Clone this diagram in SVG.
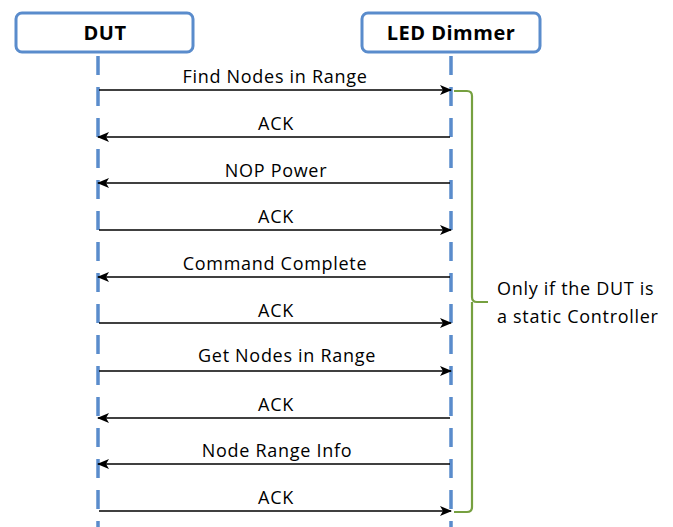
<svg xmlns="http://www.w3.org/2000/svg" width="673" height="527" viewBox="0 0 673 527">
<defs>
<style>
.box{fill:#fff;stroke:#5a8ccc;stroke-width:3}
.hdr{font-family:"Open Sans","Liberation Sans",Arial,sans-serif;font-weight:bold;font-size:20px;letter-spacing:0.5px;fill:#000;text-anchor:middle}
.life{stroke:#5a8ccc;stroke-width:3.5;stroke-dasharray:19 12}
.msg{stroke:#000;stroke-width:1.6;fill:none}
.lbl{font-family:"Open Sans","Liberation Sans",Arial,sans-serif;font-size:18px;letter-spacing:0.7px;fill:#000;text-anchor:middle}
.note{font-family:"Open Sans","Liberation Sans",Arial,sans-serif;font-size:18px;letter-spacing:0.7px;fill:#000}
</style>
<marker id="ah" viewBox="0 0 12 10" refX="11" refY="5" markerWidth="12" markerHeight="10" markerUnits="userSpaceOnUse" orient="auto">
<path d="M0,0 L12,5 L0,10 L3,5 Z" fill="#000"/>
</marker>
</defs>
<g id="DUT">
<rect class="box" x="16" y="13" width="177" height="39" rx="6"/>
<text class="hdr" x="105" y="40">DUT</text>
<line class="life" x1="98" y1="56" x2="98" y2="527"/>
</g>
<g id="LED">
<rect class="box" x="362" y="13" width="178" height="39" rx="6"/>
<text class="hdr" x="451" y="40">LED Dimmer</text>
<line class="life" x1="451" y1="56" x2="451" y2="527"/>
</g>
<g id="connectors">
<line class="msg" x1="99" y1="90" x2="451" y2="90" marker-end="url(#ah)"/>
<line class="msg" x1="450" y1="137" x2="98" y2="137" marker-end="url(#ah)"/>
<line class="msg" x1="450" y1="183" x2="98" y2="183" marker-end="url(#ah)"/>
<line class="msg" x1="99" y1="230" x2="451" y2="230" marker-end="url(#ah)"/>
<line class="msg" x1="450" y1="277" x2="98" y2="277" marker-end="url(#ah)"/>
<line class="msg" x1="99" y1="323" x2="451" y2="323" marker-end="url(#ah)"/>
<line class="msg" x1="99" y1="371" x2="451" y2="371" marker-end="url(#ah)"/>
<line class="msg" x1="450" y1="418" x2="98" y2="418" marker-end="url(#ah)"/>
<line class="msg" x1="450" y1="464" x2="98" y2="464" marker-end="url(#ah)"/>
<line class="msg" x1="99" y1="511" x2="451" y2="511" marker-end="url(#ah)"/>
</g>
<g id="labels">
<text class="lbl" x="275" y="83">Find Nodes in Range</text>
<text class="lbl" x="276" y="130">ACK</text>
<text class="lbl" x="276" y="177">NOP Power</text>
<text class="lbl" x="276" y="223">ACK</text>
<text class="lbl" x="275" y="270">Command Complete</text>
<text class="lbl" x="276" y="317">ACK</text>
<text class="lbl" x="287" y="362">Get Nodes in Range</text>
<text class="lbl" x="276" y="411">ACK</text>
<text class="lbl" x="277" y="457">Node Range Info</text>
<text class="lbl" x="276" y="504">ACK</text>
</g>
<g id="brace">
<path d="M454,91 L467,91 Q472,91 472,96 L472,297 Q472,302 477,302 L488,302 M472,302 L472,507 Q472,512 467,512 L454,512" fill="none" stroke="#76a040" stroke-width="2.2"/>
<text class="note" x="497" y="295">Only if the DUT is</text>
<text class="note" x="497" y="323">a static Controller</text>
</g>
</svg>
